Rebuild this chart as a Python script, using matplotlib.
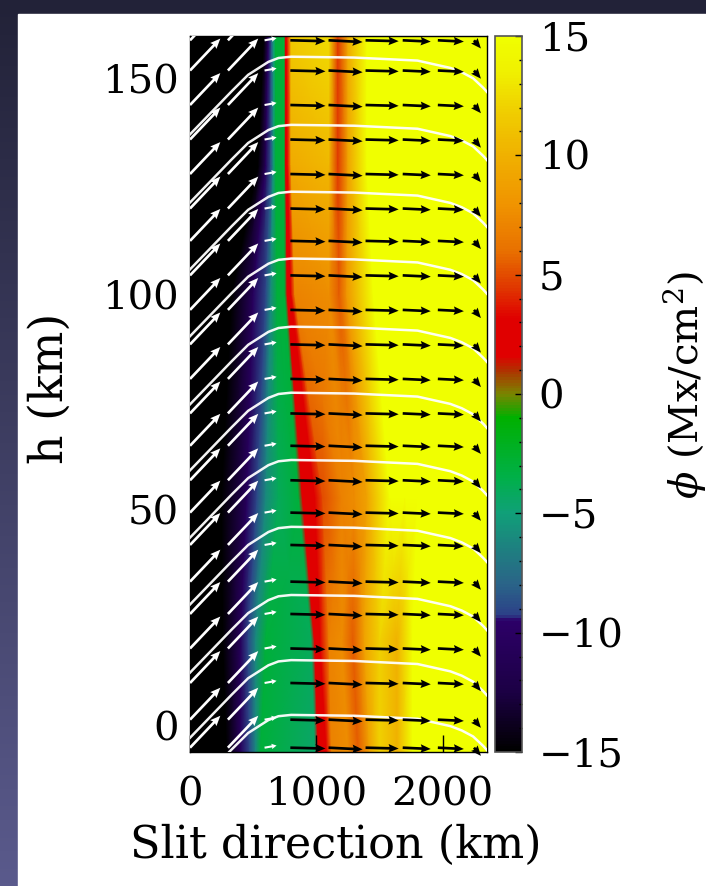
import numpy as np
import matplotlib
matplotlib.use('Agg')
import matplotlib.pyplot as plt
from matplotlib.colors import LinearSegmentedColormap
from matplotlib.patches import Rectangle
from matplotlib.ticker import MultipleLocator

plt.rcParams['font.family'] = 'DejaVu Serif'
plt.rcParams['mathtext.fontset'] = 'dejavuserif'

# colour table (value -> colour)
cbar_vals = [-15, -12.5, -10.0, -9.5, -9.3, -8.0, -6.5, -5.0, -3.5, -1.0, 0.0,
             1.0, 1.6, 3.2, 4.5, 6.0, 8.0, 10.0, 12.0, 13.5, 15]
cbar_cols = ['#000000', '#1c0045', '#2a0062', '#2c0068', '#2c4088', '#2a6488',
             '#1e8080', '#10a078', '#00b048', '#00b000', '#7a8400',
             '#b03000', '#e00000', '#e00000', '#e03800', '#e87000', '#f09400',
             '#f0b000', '#f0d000', '#f0f000', '#f0ff00']

# flux density phi (Mx/cm^2) read along a few heights; nodes sit on the
# colour boundaries so the slanted edges follow the picture
row_h = [-6, 20, 53, 100, 130, 160]
row_x = [
    [0, 290, 400, 470, 520, 560, 990, 1015, 1080, 1120, 1250, 1330, 1420, 1500, 1640, 1760, 2350],
    [0, 260, 400, 460, 520, 600, 960, 985, 1030, 1100, 1200, 1290, 1380, 1500, 1640, 1760, 2350],
    [0, 250, 450, 530, 600, 700, 860, 890, 990, 1050, 1200, 1300, 1400, 1580, 1700, 1800, 2350],
    [0, 330, 500, 600, 640, 690, 750, 770, 800, 830, 1100, 1180, 1240, 1450, 1700, 1800, 2350],
    [0, 540, 600, 640, 660, 680, 745, 758, 772, 800, 1100, 1170, 1250, 1400, 1700, 1800, 2350],
    [0, 585, 620, 645, 662, 678, 745, 756, 768, 800, 1100, 1170, 1250, 1400, 1700, 1800, 2350],
]
row_phi = [
    [-15, -15, -10.5, -9, -6, -3, -4.5, 2, 3, 7, 7.5, 5.5, 9, 12, 10, 15, 15],
    [-15, -15, -10.5, -9, -6, -3, -4.0, 2, 3, 7, 7.5, 5.5, 9, 12, 10, 15, 15],
    [-15, -15, -10.5, -9, -6, -4, -3.0, 2, 2.5, 5, 7, 7.5, 9, 15, 15, 15, 15],
    [-15, -15, -10.5, -9, -6, -3, -3.0, 2, 3, 7, 7.5, 5.5, 8, 15, 15, 15, 15],
    [-15, -15, -10.5, -8.5, -5.5, -3, -3.0, 2, 3, 9.5, 10.5, 4.5, 9, 15, 15, 15, 15],
    [-15, -15, -10.5, -8, -5, -3, -3.0, 2, 3.5, 11.5, 12.5, 4.5, 9.5, 15, 15, 15, 15],
]

# velocity arrows: rows, columns (tails), vector per column in km
arrow_h = [159, 152, 144, 136, 128, 120, 112.5, 104.5, 96.5, 88.5, 80.5,
           72.5, 65, 57, 49.5, 42, 33.5, 26, 18, 10, 1.5, -5]
arrow_x = [0, 300, 590, 794, 1096, 1389, 1683, 1961, 2247]
arrow_u = [240, 240, 95, 278, 270, 262, 222, 206, 55]
arrow_v = [7.4, 7.4, 0.5, -0.2, -0.4, -0.2, -0.3, -0.3, -1.9]
arrow_col = ['white', 'white', 'white', 'black', 'black', 'black', 'black', 'black', 'black']

# white field lines: peak heights and a common shape (offset from the peak)
line_peak_h = [155.2, 139.4, 123.9, 108.4, 92.6, 77.3, 61.7, 46.2, 30.4, 15.3, 2.6]
line_x = [0, 330, 460, 620, 700, 800, 1300, 1800, 2060, 2150, 2240, 2320, 2360]
line_dh = [-18, -8, -4.2, -1.2, -0.3, 0, -0.2, -0.9, -2.6, -3.6, -5, -7.2, -8.5]

fig = plt.figure(figsize=(7.06, 8.86), dpi=100)

# slide background behind the white panel
bg = fig.add_axes([0, 0, 1, 1], zorder=-10)
bg_cmap = LinearSegmentedColormap.from_list('bg', ['#222238', '#5a5a8c'])
bg.imshow(np.linspace(0, 1, 256)[:, None], aspect='auto', cmap=bg_cmap,
          extent=[0, 1, 0, 1], origin='upper')
bg.add_patch(Rectangle((18 / 706, 0), 1 - 18 / 706, 1 - 14 / 886,
                       color='white', transform=bg.transAxes))
bg.axis('off')

cmap = LinearSegmentedColormap.from_list(
    'phi', [((v + 15) / 30, c) for v, c in zip(cbar_vals, cbar_cols)])

ax = fig.add_axes([190 / 706, 1 - 752 / 886, 297 / 706, 716 / 886])
X = np.array(row_x, dtype=float)
Y = np.repeat(np.array(row_h, dtype=float)[:, None], X.shape[1], axis=1)
mesh = ax.pcolormesh(X, Y, np.array(row_phi), shading='gouraud', cmap=cmap,
                     vmin=-15, vmax=15)

for hp in line_peak_h:
    ax.plot(line_x, [hp + d for d in line_dh], color='white', lw=1.8,
            alpha=0.95, zorder=3)

QX, QY = np.meshgrid(arrow_x, arrow_h)
QU, _ = np.meshgrid(arrow_u, arrow_h)
QV, _ = np.meshgrid(arrow_v, arrow_h)
QC = np.tile(arrow_col, len(arrow_h))
QX, QY, QU, QV = QX.ravel(), QY.ravel(), QU.ravel(), QV.ravel()
white = QC == 'white'
small = QU < 150  # the short white dashes get a thinner arrow
qkw = dict(angles='xy', scale_units='xy', scale=1, pivot='tail', zorder=4)
big = dict(width=0.009, headwidth=3.2, headlength=3.8, headaxislength=3.4)
m = white & ~small
ax.quiver(QX[m], QY[m], QU[m], QV[m], color='white', **big, **qkw)
m = white & small
ax.quiver(QX[m], QY[m], QU[m], QV[m], color='white', width=0.007,
          headwidth=2.6, headlength=2.4, headaxislength=2.2, **qkw)
m = ~white
ax.quiver(QX[m], QY[m], QU[m], QV[m], color='black', clip_on=False,
          **big, **qkw)

ax.set_xlim(0, 2350)
ax.set_ylim(-6, 160)
ax.set_xticks([0, 1000, 2000])
ax.set_yticks([0, 50, 100, 150])
ax.tick_params(axis='x', direction='in', length=12, width=1, labelsize=29, pad=18)
ax.tick_params(axis='y', direction='in', length=6, width=1, labelsize=29, pad=8)
for s in ax.spines.values():
    s.set_linewidth(1)

cax = fig.add_axes([495 / 706, 1 - 752 / 886, 27 / 706, 716 / 886])
cb = fig.colorbar(mesh, cax=cax, ticks=[-15, -10, -5, 0, 5, 10, 15])
cax.yaxis.set_minor_locator(MultipleLocator(1))
cax.tick_params(which='major', direction='in', length=5, width=1, labelsize=29, pad=12)
cax.tick_params(which='minor', direction='in', length=2, width=1)
cb.outline.set_edgecolor('#555555')
cb.outline.set_linewidth(1.2)

fig.text(336 / 706, 1 - 845 / 886, 'Slit direction (km)', ha='center',
         va='center', fontsize=32)
fig.text(50 / 706, 1 - 388 / 886, 'h (km)', ha='center', va='center',
         rotation=90, fontsize=33)
fig.text(684 / 706, 1 - 385 / 886, r'$\phi$ (Mx/cm$^2$)', ha='center',
         va='center', rotation=90, fontsize=29)

plt.savefig('out.png', dpi=100)
plt.close()
